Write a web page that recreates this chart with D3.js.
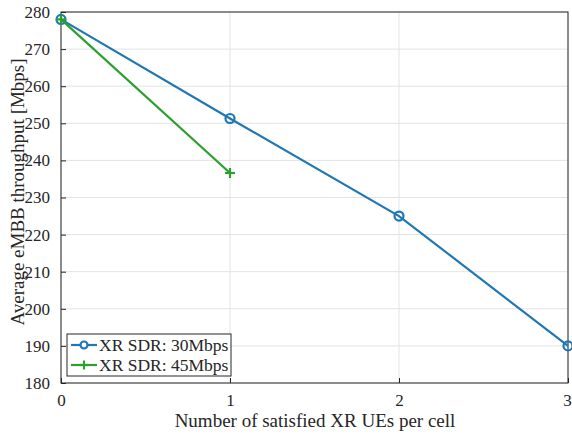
<!DOCTYPE html>
<html>
<head>
<meta charset="utf-8">
<script src="https://cdn.jsdelivr.net/npm/d3@7"></script>
<style>
  body { margin: 0; background: #fff; }
  svg { display: block; }
  text { font-family: "Liberation Serif", "Times New Roman", Times, serif; fill: #262626; }
</style>
</head>
<body>
<svg id="chart" width="572" height="437"></svg>
<script>
// Satisfied XR UEs per cell vs. average eMBB throughput
const xValues = [0, 1, 2, 3];
const sdr30 = [278, 251.3, 225, 190];
const sdr45x = [0, 1];
const sdr45 = [278, 236.6];
const yTicks = [180, 190, 200, 210, 220, 230, 240, 250, 260, 270, 280];
const xTicks = [0, 1, 2, 3];
const seriesNames = ["XR SDR: 30Mbps", "XR SDR: 45Mbps"];

const colBlue = "#1f77b4";
const colGreen = "#2ca02c";
const serif = '"Liberation Serif", "Times New Roman", Times, serif';

const svg = d3.select("#chart");
const m = { left: 61, right: 568, top: 12, bottom: 383 };

const x = d3.scaleLinear().domain([0, 3]).range([m.left, m.right]);
const y = d3.scaleLinear().domain([180, 280]).range([m.bottom, m.top]);

// grid
const g = svg.append("g");
g.selectAll(".gx").data(xTicks).enter().append("line")
  .attr("x1", d => x(d)).attr("x2", d => x(d))
  .attr("y1", m.top).attr("y2", m.bottom)
  .attr("stroke", "#e3e3e3").attr("stroke-width", 1);
g.selectAll(".gy").data(yTicks).enter().append("line")
  .attr("x1", m.left).attr("x2", m.right)
  .attr("y1", d => y(d)).attr("y2", d => y(d))
  .attr("stroke", "#e3e3e3").attr("stroke-width", 1);

// axes (ticks pointing inward)
const xAxis = d3.axisBottom(x).tickValues(xTicks).tickFormat(d3.format("d")).tickSizeInner(-5).tickSizeOuter(0).tickPadding(11);
const yAxis = d3.axisLeft(y).tickValues(yTicks).tickFormat(d3.format("d")).tickSizeInner(-5).tickSizeOuter(0).tickPadding(11);

const gx = svg.append("g").attr("transform", `translate(0,${m.bottom})`).call(xAxis);
const gy = svg.append("g").attr("transform", `translate(${m.left},0)`).call(yAxis);
[gx, gy].forEach(a => {
  a.attr("font-family", serif).attr("font-size", 17);
  a.select(".domain").remove();
  a.selectAll(".tick line").attr("stroke", "#262626");
  a.selectAll(".tick text").attr("fill", "#262626").style("font-family", serif);
});
gx.selectAll(".tick text").filter(d => d === 3).attr("dx", "-1");

// plot box
svg.append("rect").attr("x", m.left).attr("y", m.top)
  .attr("width", m.right - m.left).attr("height", m.bottom - m.top)
  .attr("fill", "none").attr("stroke", "#262626").attr("stroke-width", 1);

// lines
const line = d3.line().x(d => x(d[0])).y(d => y(d[1]));
const d30 = xValues.map((v, i) => [v, sdr30[i]]);
const d45 = sdr45x.map((v, i) => [v, sdr45[i]]);

svg.append("path").datum(d30).attr("d", line)
  .attr("fill", "none").attr("stroke", colBlue).attr("stroke-width", 2.2);
svg.selectAll(".m30").data(d30).enter().append("circle")
  .attr("cx", d => x(d[0])).attr("cy", d => y(d[1])).attr("r", 4.5)
  .attr("fill", "none").attr("stroke", colBlue).attr("stroke-width", 2.2);

svg.append("path").datum(d45).attr("d", line)
  .attr("fill", "none").attr("stroke", colGreen).attr("stroke-width", 2.2);
const plus = (sel, cx, cy, s, c) => {
  sel.append("line").attr("x1", cx - s).attr("x2", cx + s).attr("y1", cy).attr("y2", cy).attr("stroke", c).attr("stroke-width", 2.2);
  sel.append("line").attr("x1", cx).attr("x2", cx).attr("y1", cy - s).attr("y2", cy + s).attr("stroke", c).attr("stroke-width", 2.2);
};
d45.forEach(d => plus(svg, x(d[0]), y(d[1]), 5, colGreen));

// legend
const lg = svg.append("g");
lg.append("rect").attr("x", 67).attr("y", 334).attr("width", 164).attr("height", 42)
  .attr("fill", "#fff").attr("stroke", "#262626").attr("stroke-width", 1);
lg.append("line").attr("x1", 71).attr("x2", 97).attr("y1", 345).attr("y2", 345).attr("stroke", colBlue).attr("stroke-width", 2.2);
lg.append("circle").attr("cx", 84).attr("cy", 345).attr("r", 3.5).attr("fill", "#fff").attr("stroke", colBlue).attr("stroke-width", 2.2);
lg.append("line").attr("x1", 71).attr("x2", 97).attr("y1", 365).attr("y2", 365).attr("stroke", colGreen).attr("stroke-width", 2.2);
plus(lg, 84, 365, 4.5, colGreen);
lg.selectAll(".lt").data(seriesNames).enter().append("text")
  .attr("x", 99).attr("y", (d, i) => 351 + i * 20)
  .style("font-size", "17.5px").text(d => d);

// axis labels
svg.append("text").attr("x", 315).attr("y", 427)
  .attr("text-anchor", "middle").style("font-size", "19px")
  .text("Number of satisfied XR UEs per cell");
svg.append("text").attr("transform", `translate(24,192) rotate(-90)`)
  .attr("text-anchor", "middle").style("font-size", "19px")
  .text("Average eMBB throughput [Mbps]");
</script>
</body>
</html>
